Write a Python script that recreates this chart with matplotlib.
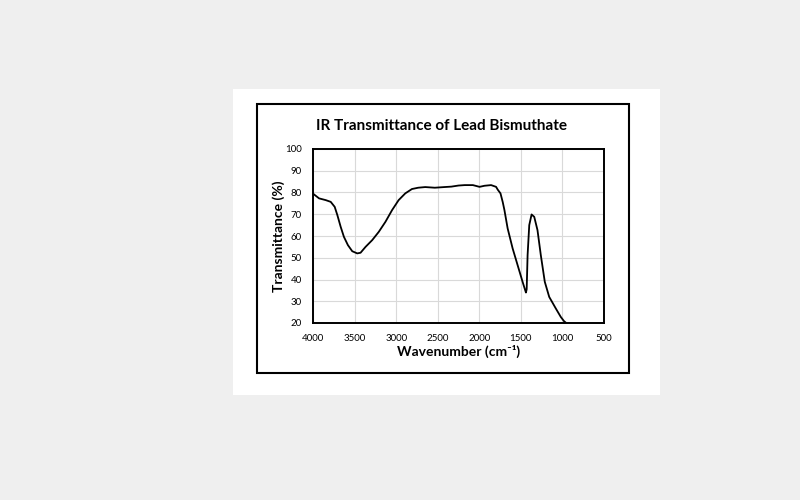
import numpy as np
import matplotlib
matplotlib.use("Agg")
import matplotlib.pyplot as plt
from matplotlib.patches import Rectangle

# data
wavenumber = [4000, 3994, 3927, 3847, 3787, 3739, 3707, 3667, 3628, 3580, 3528, 3468,
              3428, 3368, 3288, 3209, 3129, 3049, 2970, 2890, 2810, 2735, 2650, 2535,
              2420, 2336, 2250, 2176, 2077, 1997, 1937, 1858, 1798, 1778, 1745, 1718,
              1698, 1659, 1599, 1539, 1479, 1439, 1430, 1419, 1399, 1371, 1339, 1300,
              1260, 1212, 1159, 1080, 1020, 980, 960]
transmittance = [79.6, 79.3, 77.3, 76.5, 75.7, 73.4, 69.6, 64.2, 59.6, 55.8, 53.0, 52.0,
                 52.3, 55.0, 58.1, 61.9, 66.5, 71.9, 76.5, 79.6, 81.6, 82.2, 82.5, 82.2,
                 82.5, 82.7, 83.2, 83.4, 83.4, 82.6, 83.1, 83.4, 82.6, 81.3, 79.6, 75.6,
                 72.0, 63.5, 54.3, 46.6, 38.9, 34.0, 35.5, 51.2, 65.0, 69.9, 68.8, 62.7,
                 51.2, 38.9, 32.0, 26.7, 22.8, 20.8, 20.2]
x_ticks = [4000, 3500, 3000, 2500, 2000, 1500, 1000, 500]
y_ticks = [20, 30, 40, 50, 60, 70, 80, 90, 100]

plt.rcParams['font.family'] = ['Lato', 'DejaVu Sans']

W, H = 800, 500
fig = plt.figure(figsize=(8, 5), dpi=100, facecolor='#efefef')

# white panel and black frame
fig.patches.append(Rectangle((233 / W, 1 - 395 / H), (660 - 233) / W, (395 - 89) / H,
                             transform=fig.transFigure, facecolor='white', edgecolor='none', zorder=-2))
fig.patches.append(Rectangle((257 / W, 1 - 373 / H), (629 - 257) / W, (373 - 104) / H,
                             transform=fig.transFigure, facecolor='none', edgecolor='black',
                             linewidth=1.5, zorder=-1))

ax = fig.add_axes([313 / W, 1 - 323 / H, (604 - 313) / W, (323 - 149) / H])
ax.set_zorder(2)
ax.plot(wavenumber, transmittance, color='black', linewidth=1.3,
        solid_joinstyle='round', solid_capstyle='round')
ax.set_xlim(4000, 500)
ax.set_ylim(20, 100)
ax.set_xticks(x_ticks)
ax.set_yticks(y_ticks)
ax.grid(color='#d9d9d9', linewidth=0.8)
ax.set_axisbelow(True)
for s in ax.spines.values():
    s.set_linewidth(1.4)
ax.tick_params(length=0, labelsize=7, pad=8)

ax.set_xlabel('Wavenumber (cm⁻¹)', fontsize=10, fontweight='bold', labelpad=1)
ax.set_ylabel('Transmittance (%)', fontsize=10, fontweight='bold', labelpad=0)
fig.text(442 / W, 1 - 126 / H, 'IR Transmittance of Lead Bismuthate', ha='center', va='center',
         fontsize=11, fontweight='bold')

fig.savefig('out.png', dpi=100, facecolor=fig.get_facecolor())
